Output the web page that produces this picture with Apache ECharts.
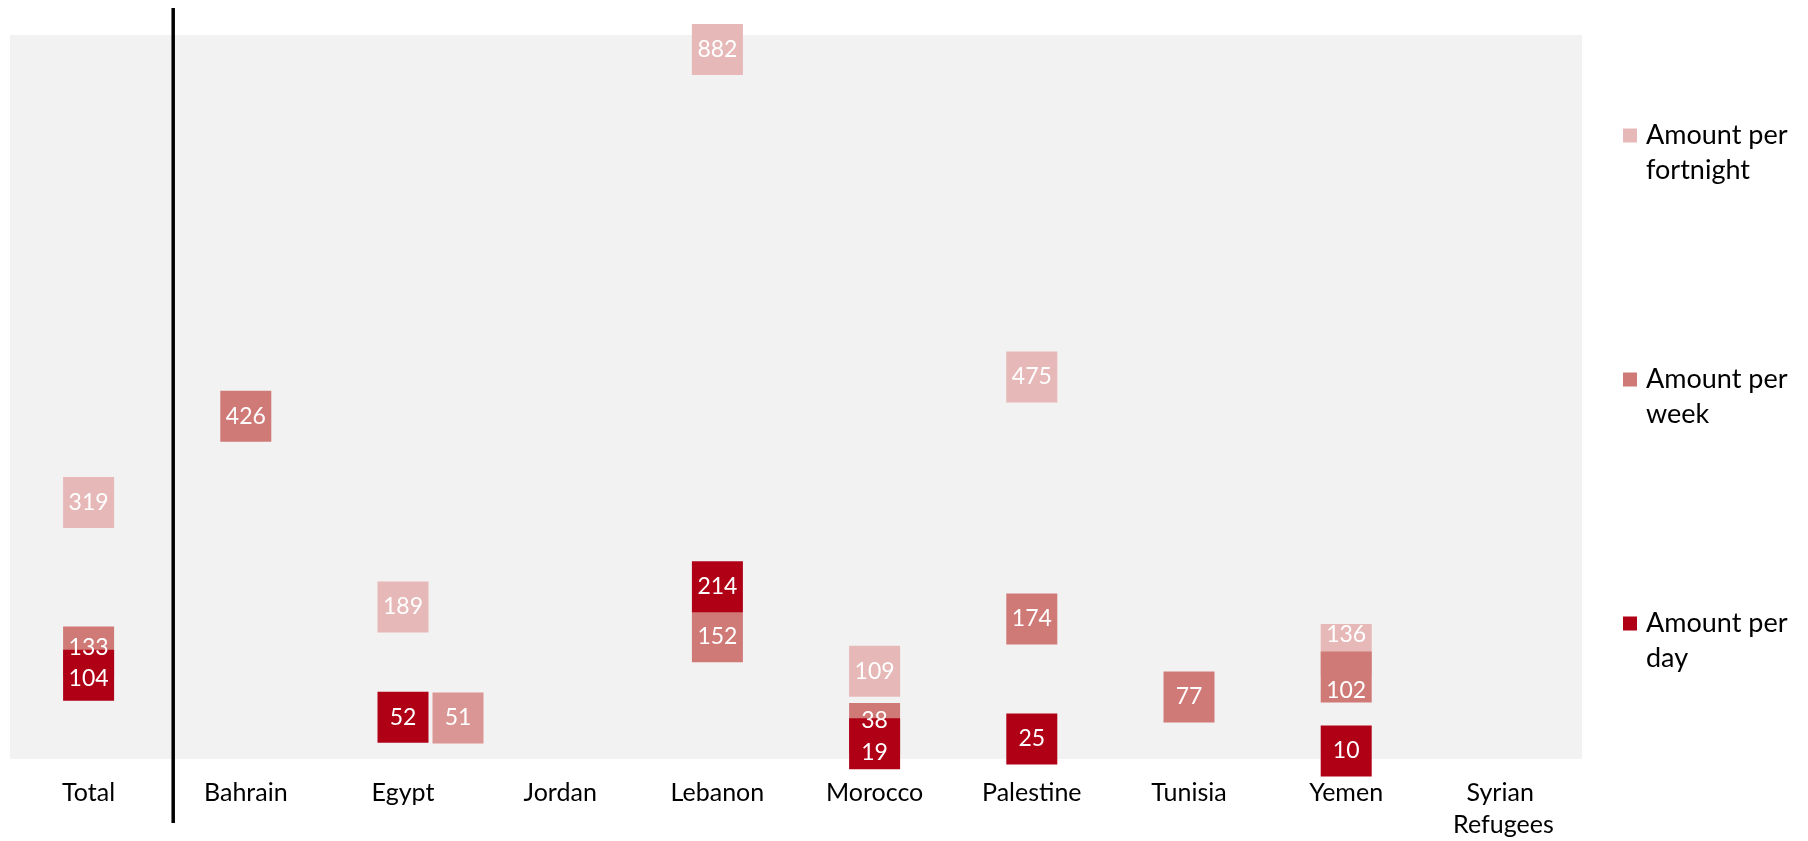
<!DOCTYPE html>
<html>
<head>
<meta charset="utf-8">
<script src="https://cdn.jsdelivr.net/npm/echarts@6/dist/echarts.min.js"></script>
<style>
  html, body { margin: 0; padding: 0; background: #fff; }
  #main { width: 1808px; height: 841px; }
</style>
</head>
<body>
<div id="main"></div>
<script>
const categories = ['Total', 'Bahrain', 'Egypt', 'Jordan', 'Lebanon', 'Morocco', 'Palestine', 'Tunisia', 'Yemen', 'Syrian Refugees']
const seriesNames = ['Amount per fortnight', 'Amount per week', 'Amount per day']
// null = no value for that country
const perFortnight = [319, null, 189, null, 882, 109, 475, null, 136, null]
const perWeek = [133, 426, 51, null, 152, 38, 174, 77, 102, null]
const perDay = [104, null, 52, null, 214, 19, 25, null, 10, null]

const colors = ['#E6B8B7', '#CF7A77', '#AF0016']
const font = 'Lato, "Open Sans", sans-serif'

// small label nudges where squares overlap (series index -> category -> dy)
const labelNudge = {
  0: { Yemen: -15 },
  1: { Total: -4, Morocco: -8, Yemen: 14 },
  2: { Total: 3, Morocco: 9 }
}

const makeData = (vals, si) => {
  const out = []
  vals.forEach((v, i) => {
    if (v == null) return
    const cat = categories[i]
    const item = { value: [cat, v] }
    const dy = labelNudge[si] && labelNudge[si][cat]
    if (dy) item.label = { offset: [0, dy] }
    // Egypt's weekly square sits beside the daily one
    if (si === 1 && cat === 'Egypt') {
      item.symbolOffset = [55, 0]
      item.itemStyle = { color: '#DA9694' }
    }
    out.push(item)
  })
  return out
}

const allVals = [perFortnight, perWeek, perDay]

const option = {
  animation: false,
  textStyle: { fontFamily: font },
  grid: {
    left: 10,
    right: 226,
    top: 35,
    bottom: 82,
    outerBoundsMode: 'none',
    containLabel: false,
    show: true,
    backgroundColor: '#F2F2F2',
    borderWidth: 0
  },
  legend: {
    orient: 'vertical',
    left: 1618,
    top: 78,
    itemGap: 139,
    itemWidth: 14,
    itemHeight: 14,
    icon: 'rect',
    selectedMode: false,
    data: seriesNames,
    formatter: (name) => ' \n' + name.replace(' per ', ' per\n'),
    textStyle: {
      fontFamily: font,
      fontSize: 27,
      lineHeight: 35,
      color: '#000',
      padding: [0, 0, 0, 4]
    }
  },
  xAxis: {
    type: 'category',
    data: categories,
    boundaryGap: true,
    axisLine: { show: false },
    axisTick: { show: false },
    splitLine: { show: false },
    axisLabel: {
      interval: 0,
      margin: 18,
      fontSize: 25,
      lineHeight: 32,
      color: '#000',
      fontFamily: font,
      width: 140,
      overflow: 'break'
    }
  },
  yAxis: {
    type: 'value',
    min: 0,
    max: 900,
    show: false,
    splitLine: { show: false }
  },
  series: allVals.map((vals, si) => ({
    name: seriesNames[si],
    type: 'scatter',
    symbol: 'rect',
    symbolSize: 51,
    clip: false,
    itemStyle: { color: colors[si], opacity: 1 },
    emphasis: { disabled: true },
    label: {
      show: true,
      position: 'inside',
      color: '#fff',
      fontSize: 23,
      fontFamily: font,
      formatter: (p) => p.value[1]
    },
    data: makeData(vals, si)
  }))
}

const chart = echarts.init(document.getElementById('main'))
chart.setOption(option)

// black divider between Total and the countries
const x0 = chart.convertToPixel({ xAxisIndex: 0 }, 'Total')
const x1 = chart.convertToPixel({ xAxisIndex: 0 }, 'Bahrain')
const divX = (x0 + x1) / 2 + 6
chart.setOption({
  graphic: [{
    type: 'line',
    shape: { x1: divX, y1: 8, x2: divX, y2: 823 },
    style: { stroke: '#000', lineWidth: 3.5 },
    z: 10
  }]
})
</script>
</body>
</html>
